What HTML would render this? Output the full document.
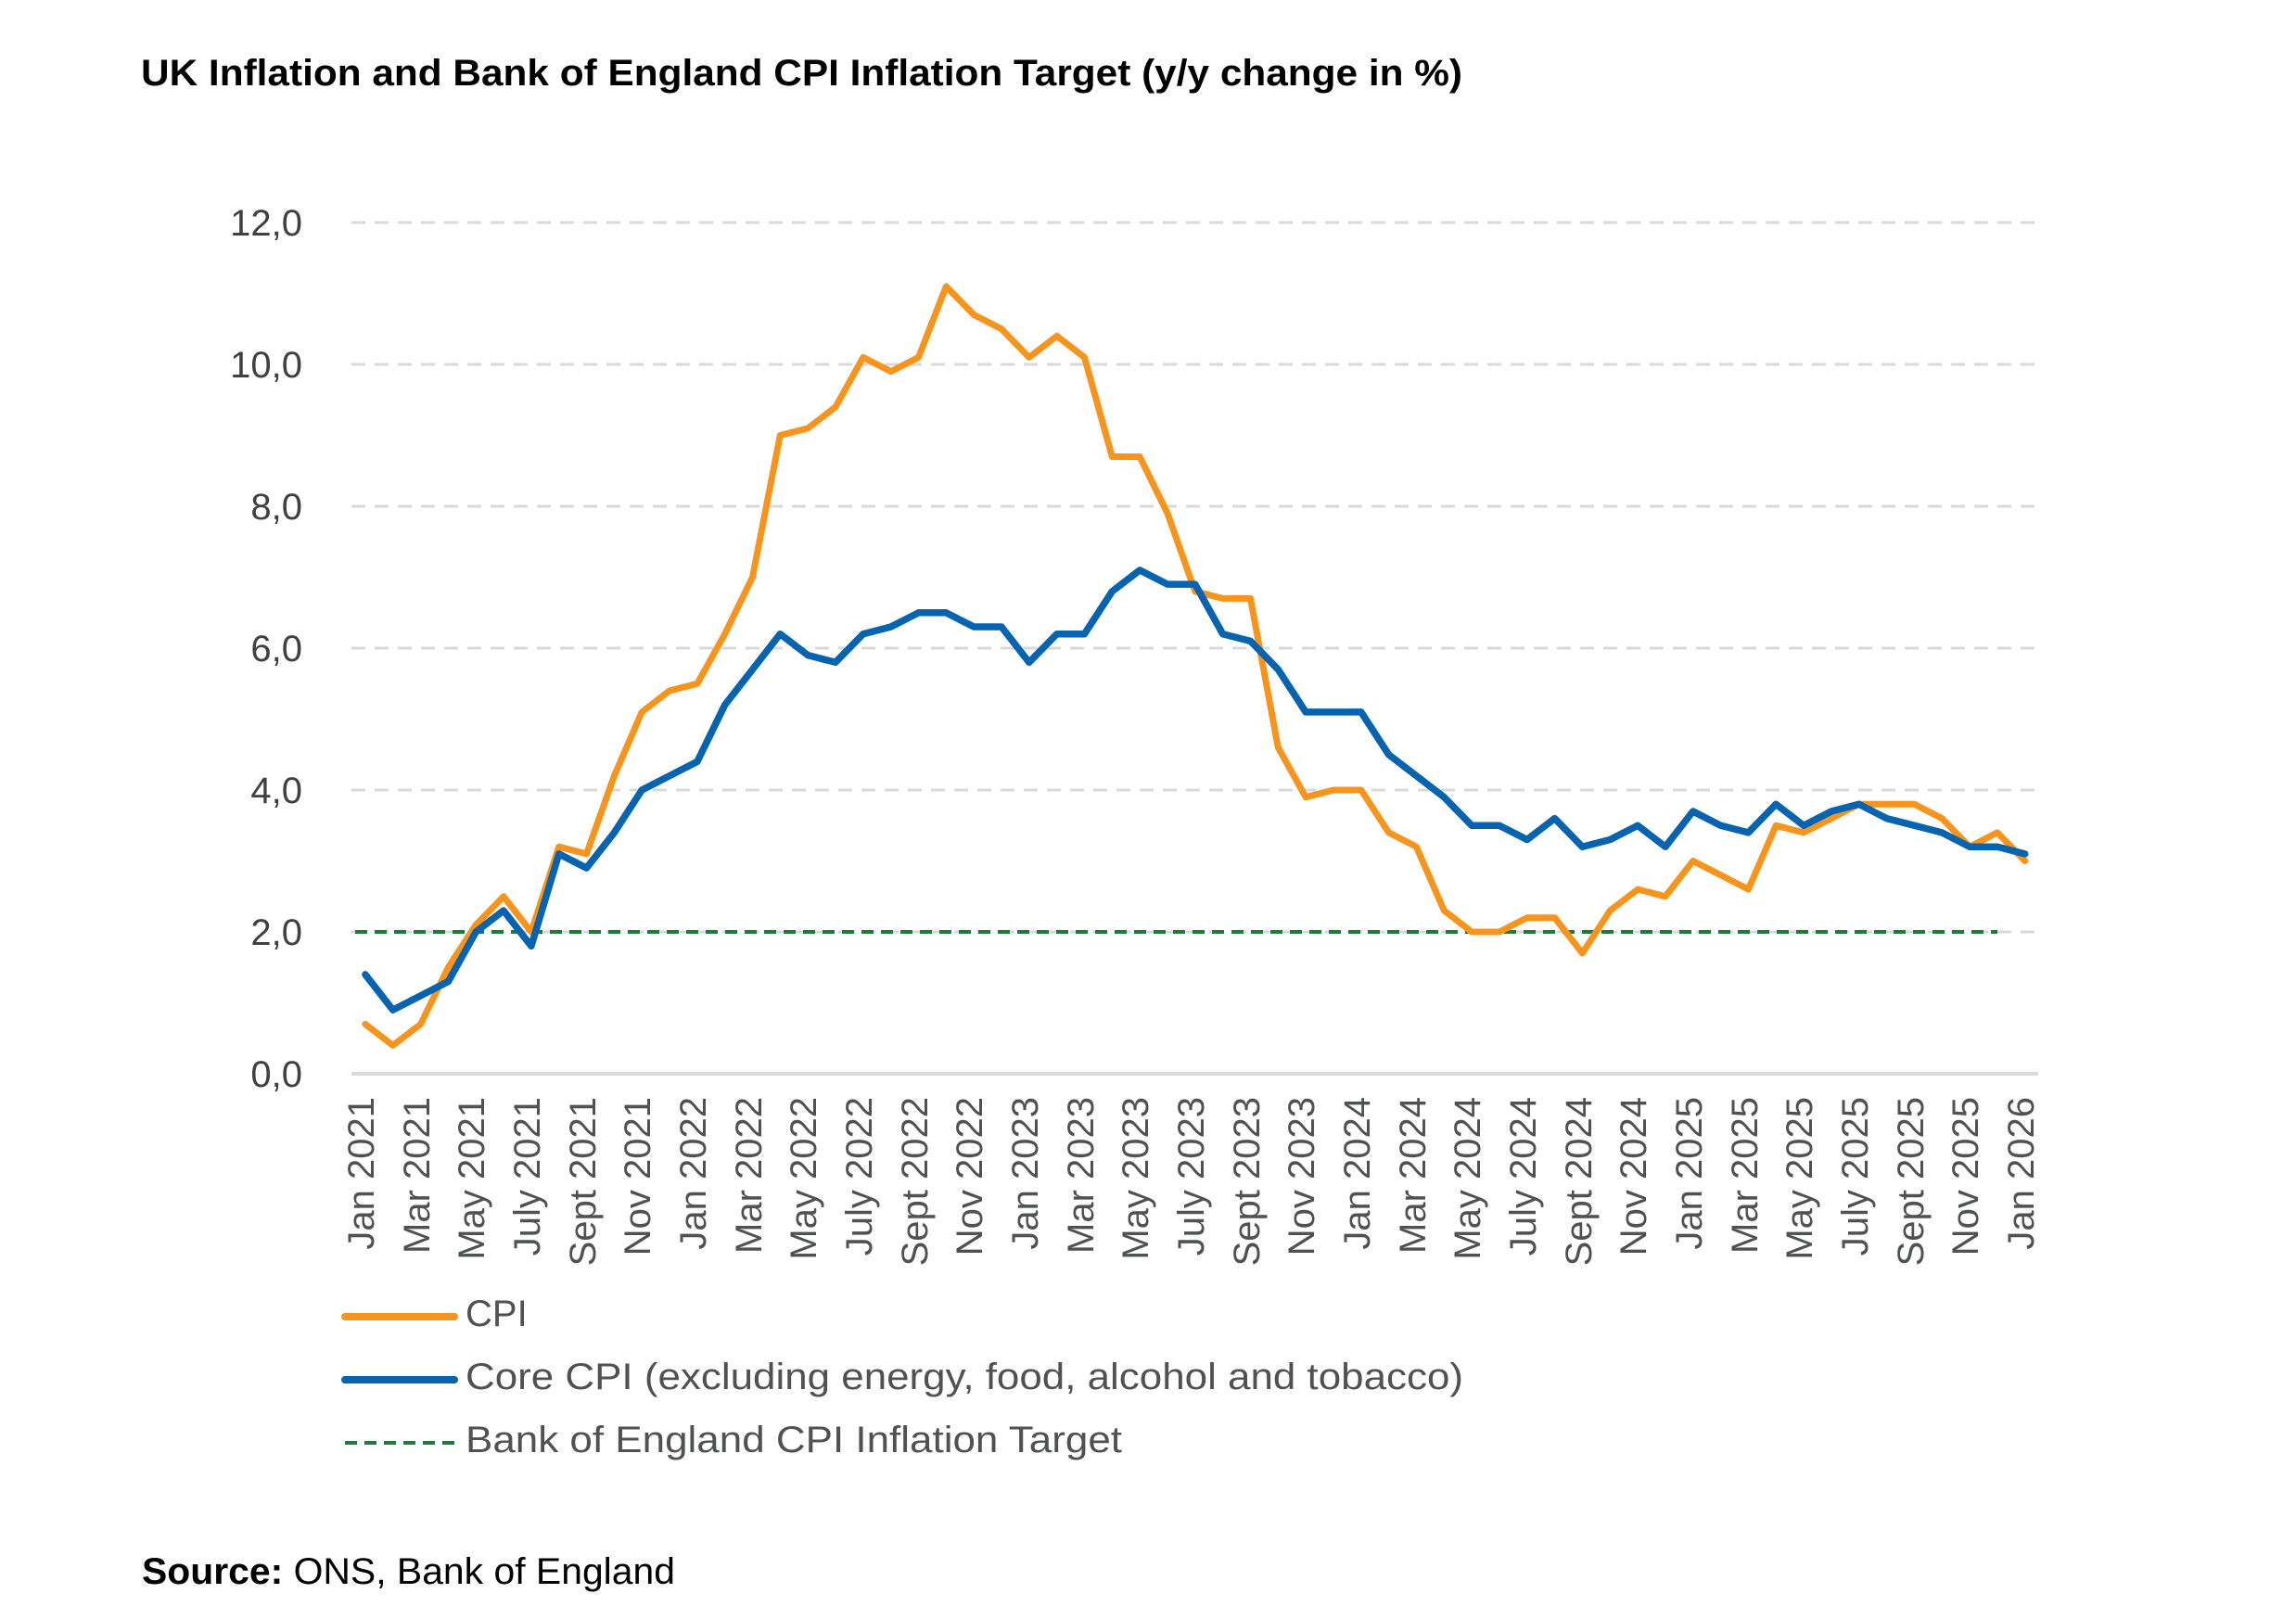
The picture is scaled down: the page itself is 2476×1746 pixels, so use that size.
<!DOCTYPE html>
<html><head><meta charset="utf-8"><style>
html,body{margin:0;padding:0;background:#fff;}
svg{display:block;font-family:"Liberation Sans",sans-serif;}
</style></head><body>
<svg width="2476" height="1746" viewBox="0 0 2476 1746" xmlns="http://www.w3.org/2000/svg">
<text x="152" y="92" font-size="40" font-weight="bold" fill="#000" textLength="1425" lengthAdjust="spacingAndGlyphs">UK Inflation and Bank of England CPI Inflation Target (y/y change in %)</text>
<g stroke="#d9d9d9" stroke-width="3" stroke-dasharray="15 10">
<line x1="379" y1="240" x2="2198" y2="240"/>
<line x1="379" y1="393" x2="2198" y2="393"/>
<line x1="379" y1="546" x2="2198" y2="546"/>
<line x1="379" y1="699" x2="2198" y2="699"/>
<line x1="379" y1="852" x2="2198" y2="852"/>
<line x1="379" y1="1005" x2="2198" y2="1005"/>
</g>
<line x1="379" y1="1158" x2="2198" y2="1158" stroke="#d9d9d9" stroke-width="4"/>
<g font-size="40" fill="#404040" text-anchor="end">
<text x="326" y="254">12,0</text>
<text x="326" y="407">10,0</text>
<text x="326" y="560">8,0</text>
<text x="326" y="713">6,0</text>
<text x="326" y="866">4,0</text>
<text x="326" y="1019">2,0</text>
<text x="326" y="1172">0,0</text>
</g>
<line x1="383" y1="1005" x2="2154" y2="1005" stroke="#217a3a" stroke-width="4" stroke-dasharray="13 8"/>
<polyline id="cpi" fill="none" stroke="#f7941d" stroke-width="7" stroke-linejoin="round" stroke-linecap="round" points=""/>
<polyline id="core" fill="none" stroke="#0563b0" stroke-width="7.5" stroke-linejoin="round" stroke-linecap="round" points=""/>
<g font-size="40" fill="#505252" text-anchor="end">
<text transform="translate(403,1183) rotate(-90)">Jan 2021</text>
<text transform="translate(463,1183) rotate(-90)">Mar 2021</text>
<text transform="translate(522,1183) rotate(-90)">May 2021</text>
<text transform="translate(582,1183) rotate(-90)">July 2021</text>
<text transform="translate(642,1183) rotate(-90)">Sept 2021</text>
<text transform="translate(701,1183) rotate(-90)">Nov 2021</text>
<text transform="translate(761,1183) rotate(-90)">Jan 2022</text>
<text transform="translate(821,1183) rotate(-90)">Mar 2022</text>
<text transform="translate(880,1183) rotate(-90)">May 2022</text>
<text transform="translate(940,1183) rotate(-90)">July 2022</text>
<text transform="translate(1000,1183) rotate(-90)">Sept 2022</text>
<text transform="translate(1059,1183) rotate(-90)">Nov 2022</text>
<text transform="translate(1119,1183) rotate(-90)">Jan 2023</text>
<text transform="translate(1179,1183) rotate(-90)">Mar 2023</text>
<text transform="translate(1238,1183) rotate(-90)">May 2023</text>
<text transform="translate(1298,1183) rotate(-90)">July 2023</text>
<text transform="translate(1358,1183) rotate(-90)">Sept 2023</text>
<text transform="translate(1417,1183) rotate(-90)">Nov 2023</text>
<text transform="translate(1477,1183) rotate(-90)">Jan 2024</text>
<text transform="translate(1537,1183) rotate(-90)">Mar 2024</text>
<text transform="translate(1596,1183) rotate(-90)">May 2024</text>
<text transform="translate(1656,1183) rotate(-90)">July 2024</text>
<text transform="translate(1716,1183) rotate(-90)">Sept 2024</text>
<text transform="translate(1775,1183) rotate(-90)">Nov 2024</text>
<text transform="translate(1835,1183) rotate(-90)">Jan 2025</text>
<text transform="translate(1895,1183) rotate(-90)">Mar 2025</text>
<text transform="translate(1954,1183) rotate(-90)">May 2025</text>
<text transform="translate(2014,1183) rotate(-90)">July 2025</text>
<text transform="translate(2074,1183) rotate(-90)">Sept 2025</text>
<text transform="translate(2133,1183) rotate(-90)">Nov 2025</text>
<text transform="translate(2193,1183) rotate(-90)">Jan 2026</text>
</g>
<line x1="372" y1="1420" x2="490" y2="1420" stroke="#f7941d" stroke-width="8" stroke-linecap="round"/>
<line x1="372" y1="1488" x2="490" y2="1488" stroke="#0563b0" stroke-width="8" stroke-linecap="round"/>
<line x1="372" y1="1556" x2="490" y2="1556" stroke="#217a3a" stroke-width="4" stroke-dasharray="13 8"/>
<g font-size="40" fill="#505252">
<text x="502" y="1430">CPI</text>
<text x="502" y="1498" textLength="1076" lengthAdjust="spacingAndGlyphs">Core CPI (excluding energy, food, alcohol and tobacco)</text>
<text x="502" y="1566" textLength="708" lengthAdjust="spacingAndGlyphs">Bank of England CPI Inflation Target</text>
</g>
<text x="153" y="1708" font-size="40" fill="#000" textLength="575" lengthAdjust="spacingAndGlyphs"><tspan font-weight="bold">Source:</tspan> ONS, Bank of England</text>
<script>
var cpi=[0.7,0.4,0.7,1.5,2.1,2.5,2.0,3.2,3.1,4.2,5.1,5.4,5.5,6.2,7.0,9.0,9.1,9.4,10.1,9.9,10.1,11.1,10.7,10.5,10.1,10.4,10.1,8.7,8.7,7.9,6.8,6.7,6.7,4.6,3.9,4.0,4.0,3.4,3.2,2.3,2.0,2.0,2.2,2.2,1.7,2.3,2.6,2.5,3.0,2.8,2.6,3.5,3.4,3.6,3.8,3.8,3.8,3.6,3.2,3.4,3.0];
var core=[1.4,0.9,1.1,1.3,2.0,2.3,1.8,3.1,2.9,3.4,4.0,4.2,4.4,5.2,5.7,6.2,5.9,5.8,6.2,6.3,6.5,6.5,6.3,6.3,5.8,6.2,6.2,6.8,7.1,6.9,6.9,6.2,6.1,5.7,5.1,5.1,5.1,4.5,4.2,3.9,3.5,3.5,3.3,3.6,3.2,3.3,3.5,3.2,3.7,3.5,3.4,3.8,3.5,3.7,3.8,3.6,3.5,3.4,3.2,3.2,3.1];
function pts(a){return a.map(function(v,i){return (393.9+29.83*i).toFixed(1)+","+(1158-76.5*v).toFixed(1);}).join(" ");}
document.getElementById("cpi").setAttribute("points",pts(cpi));
document.getElementById("core").setAttribute("points",pts(core));
</script>
</svg>
</body></html>
